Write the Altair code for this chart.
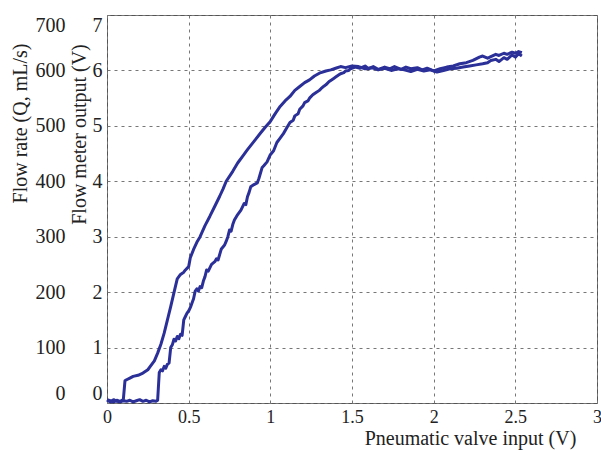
import altair as alt
import pandas as pd

# forward (rising) branch: pneumatic valve input (V) -> flow meter output (V)
up_x = [0.00, 0.02, 0.04, 0.06, 0.08, 0.10, 0.12, 0.14, 0.16, 0.18, 0.20, 0.22,
        0.24, 0.26, 0.28, 0.30, 0.31,
        0.32, 0.33, 0.34, 0.35, 0.36, 0.37, 0.38, 0.39, 0.40, 0.41, 0.42, 0.43,
        0.44, 0.45, 0.46, 0.47, 0.48, 0.49, 0.50, 0.51, 0.52, 0.53, 0.54, 0.55,
        0.56, 0.57, 0.58, 0.59, 0.60, 0.61, 0.62, 0.64, 0.66, 0.67, 0.68, 0.70,
        0.72, 0.73, 0.74, 0.75, 0.76, 0.77, 0.78, 0.80, 0.82, 0.84, 0.85, 0.86,
        0.87, 0.88, 0.90, 0.92, 0.93, 0.95, 0.96, 0.98, 1.00, 1.02, 1.04, 1.06,
        1.08, 1.10, 1.12, 1.14, 1.15, 1.17, 1.18, 1.20, 1.21, 1.23, 1.24, 1.26,
        1.28, 1.30, 1.31, 1.33, 1.34, 1.36, 1.37, 1.39, 1.40, 1.42, 1.43, 1.45,
        1.46, 1.48, 1.49, 1.52, 1.55, 1.58, 1.60, 1.63, 1.66, 1.70, 1.73, 1.76,
        1.80, 1.83, 1.86, 1.90, 1.93, 1.96, 2.00, 2.04, 2.08, 2.12, 2.16, 2.20,
        2.24, 2.28, 2.30, 2.33, 2.35, 2.38, 2.40, 2.43, 2.45, 2.48, 2.50, 2.52, 2.54]
up_v = [0.05, 0.02, 0.06, 0.03, 0.02, 0.04, 0.03, 0.05, 0.02, 0.04, 0.06, 0.03,
        0.05, 0.02, 0.04, 0.03, 0.05,
        0.55, 0.60, 0.58, 0.66, 0.63, 0.70, 0.72, 1.00, 1.05, 1.15, 1.12, 1.20,
        1.16, 1.24, 1.22, 1.50, 1.56, 1.62, 1.66, 1.72, 1.80, 1.88, 2.02, 2.06,
        2.02, 2.10, 2.08, 2.20, 2.28, 2.40, 2.38, 2.50, 2.55, 2.60, 2.58, 2.78,
        2.85, 2.92, 3.00, 3.12, 3.10, 3.22, 3.30, 3.40, 3.48, 3.60, 3.58, 3.72,
        3.80, 3.90, 3.94, 3.97, 4.05, 4.25, 4.28, 4.35, 4.48, 4.55, 4.70, 4.78,
        4.86, 4.96, 5.06, 5.10, 5.18, 5.22, 5.30, 5.36, 5.42, 5.45, 5.50, 5.56,
        5.60, 5.64, 5.67, 5.72, 5.74, 5.80, 5.82, 5.86, 5.88, 5.92, 5.94, 5.96,
        5.99, 6.00, 6.03, 6.06, 6.04, 6.08, 6.03, 6.07, 6.02, 6.06, 6.03, 6.07,
        6.02, 6.06, 6.03, 6.05, 6.01, 6.04, 5.99, 6.03, 6.06, 6.08, 6.12, 6.14,
        6.18, 6.24, 6.26, 6.22, 6.25, 6.29, 6.27, 6.31, 6.29, 6.33, 6.31, 6.34, 6.32]

# return (falling) branch
down_x = [2.54, 2.52, 2.50, 2.48, 2.45, 2.43, 2.40, 2.38, 2.35, 2.33, 2.30, 2.26,
          2.22, 2.18, 2.14, 2.10, 2.06, 2.02, 1.98, 1.94, 1.90, 1.86, 1.82, 1.78,
          1.74, 1.70, 1.66, 1.62, 1.58, 1.54, 1.50, 1.46, 1.43, 1.40, 1.37, 1.34,
          1.30, 1.27, 1.24, 1.21, 1.18, 1.15, 1.12, 1.09, 1.06, 1.03, 1.00, 0.97,
          0.94, 0.90, 0.86, 0.83, 0.80, 0.77, 0.73, 0.71, 0.69, 0.66, 0.63, 0.60,
          0.57, 0.55, 0.53, 0.51, 0.50, 0.48, 0.47, 0.45, 0.43, 0.41, 0.39, 0.37,
          0.35, 0.33, 0.31, 0.29, 0.265, 0.25, 0.22, 0.19, 0.16, 0.14, 0.12, 0.11,
          0.10, 0.08, 0.06, 0.04, 0.02, 0.00]
down_v = [6.26, 6.30, 6.24, 6.28, 6.20, 6.23, 6.16, 6.20, 6.18, 6.14, 6.12, 6.10,
          6.08, 6.06, 6.04, 6.03, 6.00, 5.97, 6.01, 5.99, 6.02, 5.98, 6.01, 6.03,
          6.00, 6.04, 6.01, 6.05, 6.03, 6.07, 6.08, 6.05, 6.07, 6.04, 6.01, 5.99,
          5.95, 5.90, 5.83, 5.78, 5.71, 5.64, 5.53, 5.45, 5.35, 5.22, 5.08, 4.98,
          4.87, 4.72, 4.57, 4.45, 4.33, 4.18, 4.00, 3.86, 3.73, 3.55, 3.37, 3.20,
          3.00, 2.90, 2.77, 2.62, 2.46, 2.40, 2.36, 2.32, 2.24, 1.99, 1.74, 1.50,
          1.26, 1.06, 0.90, 0.76, 0.66, 0.60, 0.54, 0.50, 0.48, 0.45, 0.42, 0.40,
          0.06, 0.03, 0.05, 0.02, 0.04, 0.06]

x_ticks = [0, 0.5, 1, 1.5, 2, 2.5, 3]
v_ticks = [0, 1, 2, 3, 4, 5, 6, 7]
q_ticks = [0, 100, 200, 300, 400, 500, 600, 700]

df = pd.DataFrame({
    "x": up_x + down_x,
    "v": up_v + down_v,
    "branch": ["up"] * len(up_x) + ["down"] * len(down_x),
    "order": list(range(len(up_x))) + list(range(len(down_x))),
})

FONT = "Liberation Serif"
BLUE = "#2b2f98"

xenc = alt.X("x:Q", scale=alt.Scale(domain=[0, 3], nice=False),
             axis=alt.Axis(values=x_ticks, format="~g", title="Pneumatic valve input (V)",
                           grid=True, gridDash=[3, 4], gridColor="#777", gridWidth=1,
                           domain=False, ticks=False, labelPadding=5, labelFlush=False,
                           labelFont=FONT, labelFontSize=18, labelColor="#222",
                           titleFont=FONT, titleFontSize=20, titleFontWeight="normal",
                           titleColor="#222", titleX=363, titleY=41,
                           titleBaseline="alphabetic"))

line = alt.Chart(df).mark_line(color=BLUE, strokeWidth=3, strokeJoin="round").encode(
    x=xenc,
    y=alt.Y("v:Q", scale=alt.Scale(domain=[0, 7], nice=False),
            axis=alt.Axis(values=v_ticks, title="Flow meter output (V)", orient="left",
                          grid=True, gridDash=[3, 4], gridColor="#777", gridWidth=1,
                          domain=False, ticks=False, labelPadding=5, labelFlush=True,
                          labelFont=FONT, labelFontSize=20, labelColor="#222",
                          titleFont=FONT, titleFontSize=20, titleFontWeight="normal",
                          titleColor="#222", titleAngle=270, titleX=-28, titleY=119,
                          titleBaseline="middle", titleAlign="center")),
    detail="branch:N",
    order="order:Q",
)

flow = alt.Chart(df).transform_calculate(q="datum.v * 100").mark_line(opacity=0).encode(
    x=alt.X("x:Q", scale=alt.Scale(domain=[0, 3], nice=False)),
    y=alt.Y("q:Q", scale=alt.Scale(domain=[0, 700], nice=False),
            axis=alt.Axis(values=q_ticks, title="Flow rate (Q, mL/s)", orient="left",
                          offset=38, grid=False, domain=False, ticks=False,
                          labelPadding=4, labelFlush=True,
                          labelFont=FONT, labelFontSize=20, labelColor="#222",
                          titleFont=FONT, titleFontSize=20, titleFontWeight="normal",
                          titleColor="#222", titleAngle=270, titleX=-49, titleY=108,
                          titleBaseline="middle", titleAlign="center")),
    detail="branch:N",
    order="order:Q",
)

chart = alt.layer(line, flow).resolve_scale(y="independent").properties(
    width=490, height=388,
    autosize=alt.AutoSizeParams(type="none"),
    padding={"left": 107, "top": 15, "right": 4, "bottom": 47},
).configure_view(stroke="#555", strokeWidth=1)

chart.save("out.html", embed_options={"renderer": "svg", "actions": False})
